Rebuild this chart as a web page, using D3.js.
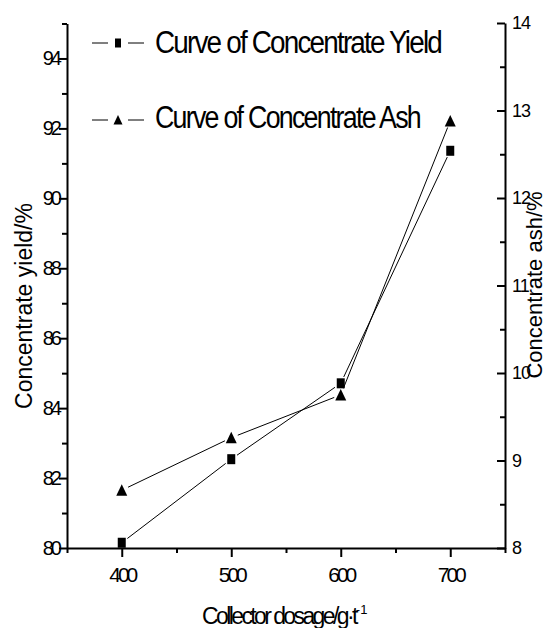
<!doctype html>
<html lang="en">
  <head>
    <meta charset="UTF-8" />
    <title>Collector dosage chart</title>
    <script src="https://d3js.org/d3.v7.min.js"></script>
    <style>
      body {
        margin: 0;
        background: #fff;
      }
      svg {
        display: block;
        font-family: "Liberation Sans", Arial, sans-serif;
      }
      .axis path,
      .axis line {
        stroke: #000;
        stroke-width: 2px;
      }
    </style>
  </head>
  <body>
    <svg width="552" height="628"></svg>

    <script>
      // data
      const dosage = [400, 500, 600, 700];
      const yieldVals = [80.15, 82.54, 84.71, 91.36];
      const ashVals = [8.66, 9.26, 9.75, 12.88];

      const xTicks = [400, 500, 600, 700];
      const xMinor = [350, 450, 550, 650, 750];
      const yLeftTicks = [80, 82, 84, 86, 88, 90, 92, 94];
      const yLeftMinor = [81, 83, 85, 87, 89, 91, 93, 95];
      const yRightTicks = [8, 9, 10, 11, 12, 13, 14];
      const yRightMinor = [8.5, 9.5, 10.5, 11.5, 12.5, 13.5];

      const svg = d3.select("svg");

      const x = d3.scaleLinear().domain([350, 750]).range([67, 505]);
      const yL = d3.scaleLinear().domain([80, 95]).range([548, 23.5]);
      const yR = d3.scaleLinear().domain([8, 14]).range([548, 23]);

      // bottom axis
      const gx = svg.append("g").attr("class", "axis").attr("transform", "translate(0,548)");
      gx.call(d3.axisBottom(x).tickValues(xTicks).tickSize(9).tickSizeOuter(0).tickFormat(d3.format("d")));
      gx.selectAll("text")
        .attr("dy", null)
        .attr("y", 34)
        .style("font-size", "21px")
        .style("letter-spacing", "-3px");
      svg.append("g").attr("class", "axis").attr("transform", "translate(0,548)")
        .call(d3.axisBottom(x).tickValues(xMinor).tickSize(5).tickFormat(""))
        .select(".domain").remove();

      // left axis
      const gl = svg.append("g").attr("class", "axis").attr("transform", "translate(67,0)");
      gl.call(d3.axisLeft(yL).tickValues(yLeftTicks).tickSize(8).tickSizeOuter(0).tickFormat(d3.format("d")));
      gl.selectAll("text")
        .attr("x", -8)
        .style("font-size", "20px")
        .style("letter-spacing", "-3px");
      svg.append("g").attr("class", "axis").attr("transform", "translate(67,0)")
        .call(d3.axisLeft(yL).tickValues(yLeftMinor).tickSize(5).tickFormat(""))
        .select(".domain").remove();

      // right axis, ticks pointing inward
      const gr = svg.append("g").attr("class", "axis").attr("transform", "translate(505,0)");
      gr.call(d3.axisRight(yR).tickValues(yRightTicks).tickSize(-8).tickSizeOuter(0).tickFormat(d3.format("d")));
      gr.selectAll("text")
        .attr("x", 7)
        .style("font-size", "18px")
        .style("letter-spacing", "-1px");
      svg.append("g").attr("class", "axis").attr("transform", "translate(505,0)")
        .call(d3.axisRight(yR).tickValues(yRightMinor).tickSize(-5).tickFormat(""))
        .select(".domain").remove();

      svg.selectAll(".axis text").attr("fill", "#000");

      // axis titles
      svg.append("text")
        .attr("transform", "translate(32,306) rotate(-90)")
        .attr("text-anchor", "middle")
        .style("font-size", "23px")
        .text("Concentrate yield/%");

      svg.append("text")
        .attr("transform", "translate(542,285) rotate(-90)")
        .attr("text-anchor", "middle")
        .style("font-size", "22px")
        .text("Concentrate ash/%");

      const xt = svg.append("text")
        .attr("x", 202)
        .attr("y", 624)
        .style("font-size", "23px")
        .style("letter-spacing", "-2.6px");
      xt.append("tspan").text("Collector dosage/g\u00b7t");
      xt.append("tspan")
        .attr("dy", -10)
        .style("font-size", "13px")
        .style("letter-spacing", "0px")
        .text("-1");

      // connecting lines, stopping short of the markers
      function gapSegments(xs, ys, gap) {
        const segs = [];
        for (let i = 0; i < xs.length - 1; i++) {
          const x1 = xs[i], y1 = ys[i], x2 = xs[i + 1], y2 = ys[i + 1];
          const len = Math.hypot(x2 - x1, y2 - y1);
          const ux = (x2 - x1) / len, uy = (y2 - y1) / len;
          segs.push([x1 + ux * gap, y1 + uy * gap, x2 - ux * gap, y2 - uy * gap]);
        }
        return segs;
      }

      const yieldPx = dosage.map((d, i) => [x(d), yL(yieldVals[i])]);
      const ashPx = dosage.map((d, i) => [x(d), yR(ashVals[i])]);

      [yieldPx, ashPx].forEach((pts) => {
        svg.append("g")
          .selectAll("line")
          .data(gapSegments(pts.map((p) => p[0]), pts.map((p) => p[1]), 7))
          .enter()
          .append("line")
          .attr("x1", (s) => s[0])
          .attr("y1", (s) => s[1])
          .attr("x2", (s) => s[2])
          .attr("y2", (s) => s[3])
          .attr("stroke", "#000")
          .attr("stroke-width", 1);
      });

      const triPath = "M0,-6L5.5,5.5L-5.5,5.5Z";

      svg.append("g")
        .selectAll("rect")
        .data(yieldPx)
        .enter()
        .append("rect")
        .attr("x", (p) => p[0] - 4)
        .attr("y", (p) => p[1] - 5)
        .attr("width", 8)
        .attr("height", 10)
        .attr("fill", "#000");

      svg.append("g")
        .selectAll("path")
        .data(ashPx)
        .enter()
        .append("path")
        .attr("transform", (p) => `translate(${p[0]},${p[1]})`)
        .attr("d", triPath)
        .attr("fill", "#000");

      // legend
      const legend = [
        { label: "Curve of Concentrate Yield", y: 43, base: 53, len: 286, shape: "square" },
        { label: "Curve of Concentrate Ash", y: 120, base: 128, len: 265, shape: "triangle" },
      ];
      legend.forEach((l) => {
        const g = svg.append("g");
        g.append("line").attr("x1", 92).attr("x2", 108).attr("y1", l.y).attr("y2", l.y)
          .attr("stroke", "#000").attr("stroke-width", 1);
        g.append("line").attr("x1", 128).attr("x2", 144).attr("y1", l.y).attr("y2", l.y)
          .attr("stroke", "#000").attr("stroke-width", 1);
        if (l.shape === "square") {
          g.append("rect").attr("x", 115).attr("y", l.y - 4.5).attr("width", 6).attr("height", 9).attr("fill", "#000");
        } else {
          g.append("path").attr("transform", `translate(118,${l.y})`).attr("d", "M0,-5L4.5,4.5L-4.5,4.5Z").attr("fill", "#000");
        }
        g.append("text")
          .attr("x", 155)
          .attr("y", l.base)
          .attr("textLength", l.len)
          .attr("lengthAdjust", "spacingAndGlyphs")
          .style("font-size", "31px")
          .style("letter-spacing", "-2px")
          .text(l.label);
      });
    </script>
  </body>
</html>
